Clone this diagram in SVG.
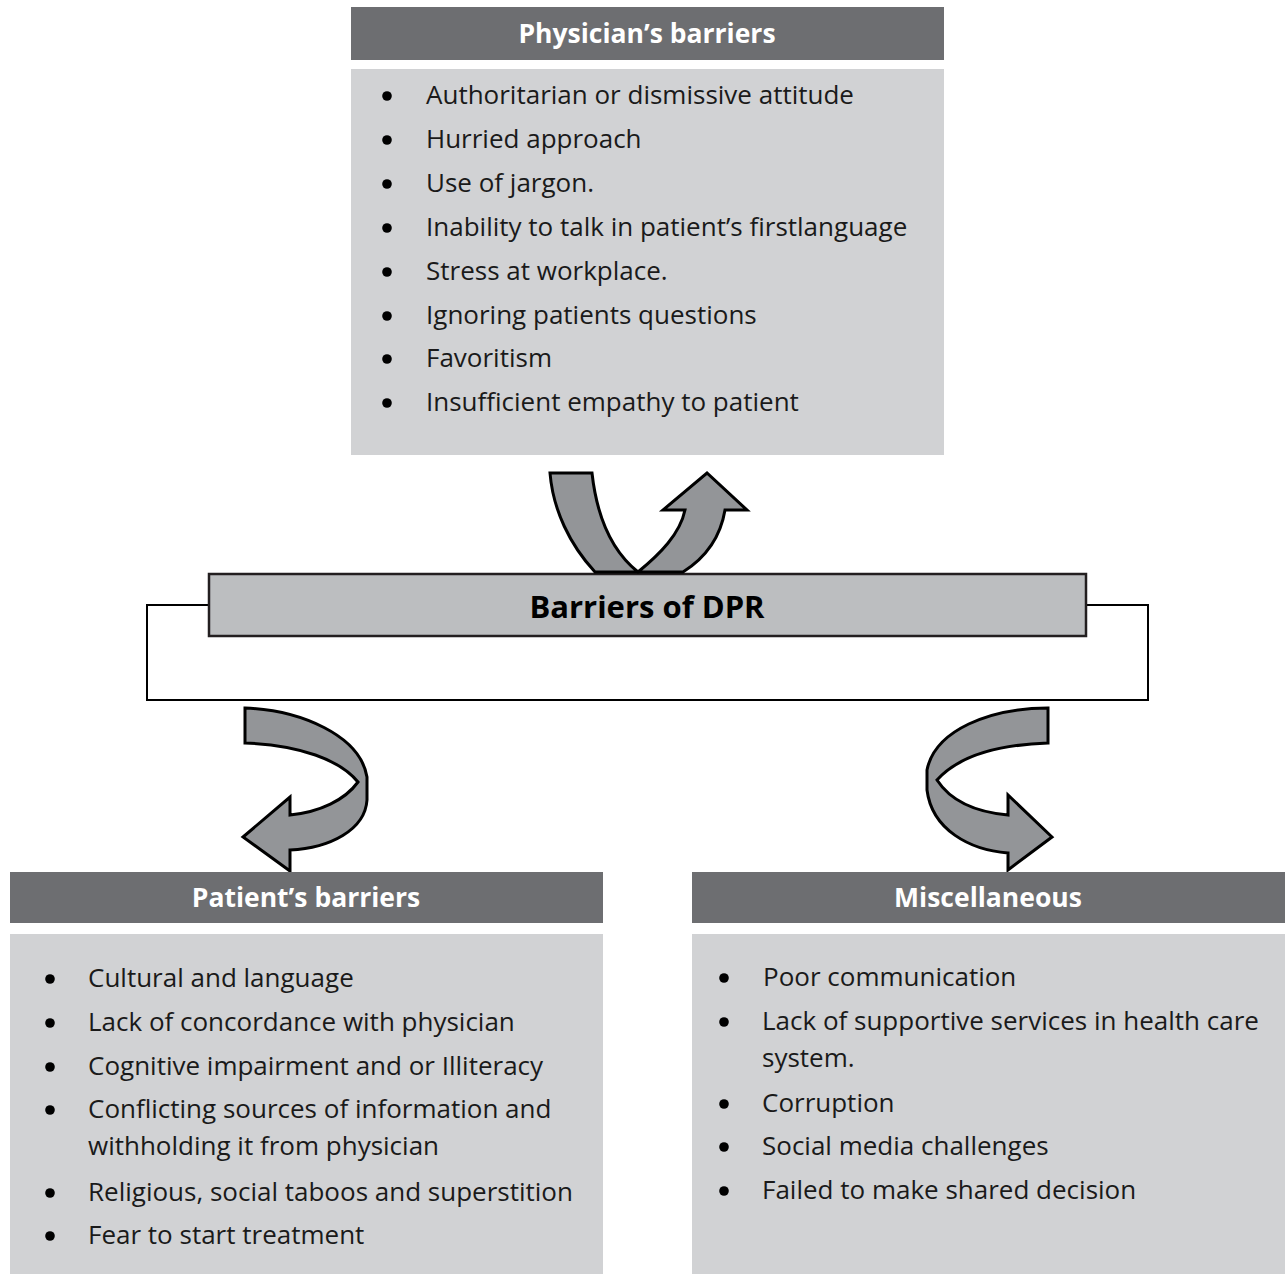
<svg xmlns="http://www.w3.org/2000/svg" width="1285" height="1274" viewBox="0 0 1285 1274">
  <style>
    .hdr { fill: #6d6e71; }
    .body { fill: #d1d2d4; }
    .hdr-t { font-family: "Open Sans", "Liberation Sans", sans-serif; font-weight: bold; font-size: 26.5px; fill: #ffffff; text-anchor: middle; }
    .item { font-family: "Open Sans", "Liberation Sans", sans-serif; font-size: 26px; fill: #1a1a1a; }
    .dot { fill: #000000; }
    .arrow { fill: #939598; stroke: #000000; stroke-width: 3; stroke-linejoin: miter; }
  </style>

  <!-- Physician's barriers -->
  <g id="physician">
    <rect class="hdr" x="351" y="7" width="593" height="53"/>
    <text class="hdr-t" x="647" y="43">Physician’s barriers</text>
    <rect class="body" x="351" y="69" width="593" height="386"/>
    <g class="dot">
      <circle cx="387" cy="96" r="4.8"/>
      <circle cx="387" cy="140" r="4.8"/>
      <circle cx="387" cy="184" r="4.8"/>
      <circle cx="387" cy="228" r="4.8"/>
      <circle cx="387" cy="272" r="4.8"/>
      <circle cx="387" cy="316" r="4.8"/>
      <circle cx="387" cy="359" r="4.8"/>
      <circle cx="387" cy="403" r="4.8"/>
    </g>
    <text class="item" x="426" y="104">Authoritarian or dismissive attitude</text>
    <text class="item" x="426" y="148">Hurried approach</text>
    <text class="item" x="426" y="192">Use of jargon.</text>
    <text class="item" x="426" y="236">Inability to talk in patient’s firstlanguage</text>
    <text class="item" x="426" y="280">Stress at workplace.</text>
    <text class="item" x="426" y="324">Ignoring patients questions</text>
    <text class="item" x="426" y="367">Favoritism</text>
    <text class="item" x="426" y="411">Insufficient empathy to patient</text>
  </g>

  <!-- Central node -->
  <g id="center">
    <rect x="147" y="605" width="1001" height="95" fill="#ffffff" stroke="#000000" stroke-width="2"/>
    <rect x="209" y="574" width="877" height="62" fill="#bcbec0" stroke="#231f20" stroke-width="2.5"/>
    <text x="647" y="618" font-family="Open Sans, Liberation Sans, sans-serif" font-weight="bold" font-size="31" fill="#000000" text-anchor="middle">Barriers of DPR</text>
  </g>

  <!-- Curved arrows -->
  <g id="connectors">
    <path class="arrow" d="M550,473 L592,473 C597,518 613,552 638,572 C660,554 680,534 685,510 L663,510 L707,473 L747,510 L725,510 C720,540 702,560 683,572 L595,572 C570,545 553,510 550,473 Z"/>
    <path class="arrow" d="M245,708 C300,710 360,735 367,777 L367,800 C365,830 330,848 290,850 L290,871 L243,837 L290,797 L290,815 C320,812 345,800 358,782 C340,760 300,745 245,743 Z"/>
    <path class="arrow" d="M1048,708 C990,708 935,730 927,770 L927,790 C932,830 970,850 1008,853 L1008,870 L1052,837 L1008,795 L1008,815 C975,812 950,800 937,780 C955,760 990,745 1048,743 Z"/>
  </g>

  <!-- Patient's barriers -->
  <g id="patient">
    <rect class="hdr" x="10" y="872" width="593" height="51"/>
    <text class="hdr-t" x="306" y="907">Patient’s barriers</text>
    <rect class="body" x="10" y="934" width="593" height="340"/>
    <g class="dot">
      <circle cx="50" cy="979" r="4.8"/>
      <circle cx="50" cy="1023" r="4.8"/>
      <circle cx="50" cy="1067" r="4.8"/>
      <circle cx="50" cy="1110" r="4.8"/>
      <circle cx="50" cy="1193" r="4.8"/>
      <circle cx="50" cy="1236" r="4.8"/>
    </g>
    <text class="item" x="88" y="987">Cultural and language</text>
    <text class="item" x="88" y="1031">Lack of concordance with physician</text>
    <text class="item" x="88" y="1075">Cognitive impairment and or Illiteracy</text>
    <text class="item" x="88" y="1118">Conflicting sources of information and</text>
    <text class="item" x="88" y="1155">withholding it from physician</text>
    <text class="item" x="88" y="1201">Religious, social taboos and superstition</text>
    <text class="item" x="88" y="1244">Fear to start treatment</text>
  </g>

  <!-- Miscellaneous -->
  <g id="misc">
    <rect class="hdr" x="692" y="872" width="593" height="51"/>
    <text class="hdr-t" x="988" y="907">Miscellaneous</text>
    <rect class="body" x="692" y="934" width="593" height="340"/>
    <g class="dot">
      <circle cx="724" cy="978" r="4.8"/>
      <circle cx="724" cy="1022" r="4.8"/>
      <circle cx="724" cy="1104" r="4.8"/>
      <circle cx="724" cy="1147" r="4.8"/>
      <circle cx="724" cy="1191" r="4.8"/>
    </g>
    <text class="item" x="763" y="986">Poor communication</text>
    <text class="item" x="762" y="1030">Lack of supportive services in health care</text>
    <text class="item" x="762" y="1067">system.</text>
    <text class="item" x="762" y="1112">Corruption</text>
    <text class="item" x="762" y="1155">Social media challenges</text>
    <text class="item" x="762" y="1199">Failed to make shared decision</text>
  </g>
</svg>
